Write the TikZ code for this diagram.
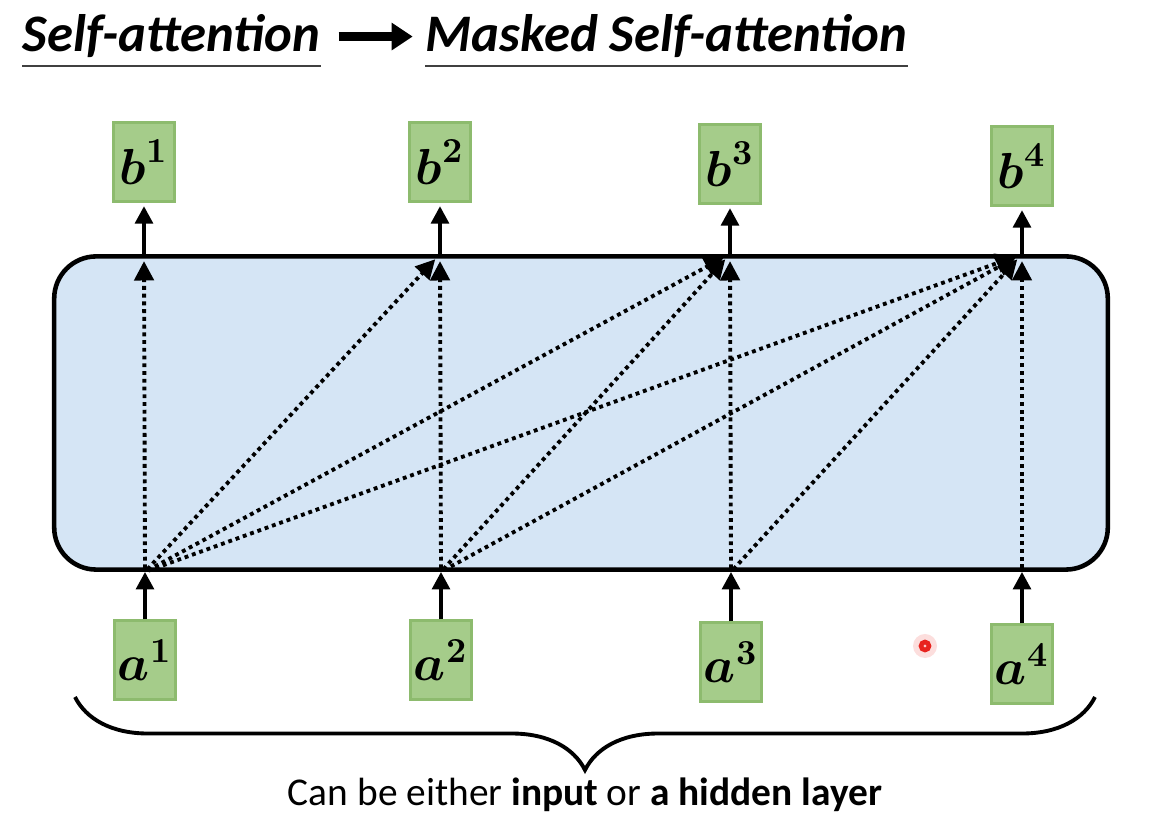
\documentclass[tikz,border=0pt]{standalone}
\usepackage{fontspec}
\usepackage{amsmath}
\usetikzlibrary{arrows.meta, positioning, calc, decorations.pathreplacing}
\newfontfamily\carlito{Carlito}
\definecolor{vecgreen}{HTML}{A5CC8A}
\definecolor{vecedge}{HTML}{8DBB6E}
\definecolor{layerblue}{HTML}{D5E5F5}
\definecolor{ptred}{HTML}{E8231E}

\begin{document}
\begin{tikzpicture}[
  x=0.01cm, y=-0.01cm,
  vec/.style={rectangle, draw=vecedge, fill=vecgreen, line width=0.6pt, minimum width=0.61cm, minimum height=0.79cm, inner sep=0pt, font=\fontsize{14}{16}\selectfont},
  layerbox/.style={rectangle, rounded corners=0.42cm, draw=black, line width=1.3pt, fill=layerblue, minimum width=10.53cm, minimum height=3.13cm},
  solidarrow/.style={-{Triangle[length=5pt, width=5pt]}, line width=1.2pt},
  dotarrow/.style={-{Triangle[length=5.5pt, width=5.5pt]}, line width=1.1pt, dash pattern=on 1.1pt off 1.1pt},
  heading/.style={font=\carlito\bfseries\itshape\fontsize{15}{18}\selectfont, inner sep=0pt},
  uline/.style={line width=0.7pt, black!75},
  bigarrow/.style={-{Triangle[length=6pt, width=7.5pt]}, line width=2.3pt},
]
\useasboundingbox (0,0) rectangle (1154,816);

% Title
\node[heading, anchor=base west] (selfatt) at (22,52) {Self-attention};
\node[heading, anchor=base west] (masked) at (425,52) {Masked Self-attention};
\draw[uline] ([yshift=-4pt]selfatt.base west) -- ([yshift=-4pt]selfatt.base east);
\draw[uline] ([yshift=-4pt]masked.base west) -- ([yshift=-4pt]masked.base east);
\draw[bigarrow, shorten <=5pt, shorten >=3.5pt] (selfatt.east) -- (masked.west);

% Layer
\node[layerbox] (layer) at (581,413) {};

% Outputs and inputs
\node[vec] (b1) at (144,162) {$\boldsymbol{b}^{\boldsymbol{1}}$};
\node[vec] (b2) at (440,162) {$\boldsymbol{b}^{\boldsymbol{2}}$};
\node[vec] (b3) at (730,164) {$\boldsymbol{b}^{\boldsymbol{3}}$};
\node[vec] (b4) at (1022,166) {$\boldsymbol{b}^{\boldsymbol{4}}$};
\node[vec] (a1) at (145,660) {$\boldsymbol{a}^{\boldsymbol{1}}$};
\node[vec] (a2) at (441,660) {$\boldsymbol{a}^{\boldsymbol{2}}$};
\node[vec] (a3) at (731,662) {$\boldsymbol{a}^{\boldsymbol{3}}$};
\node[vec] (a4) at (1022,664) {$\boldsymbol{a}^{\boldsymbol{4}}$};

\foreach \k in {1,...,4} {
  \draw[solidarrow] (a\k) -- (a\k |- layer.south);
  \draw[solidarrow, shorten >=1pt] (b\k |- layer.north) -- (b\k);
}

% Masked attention: only earlier inputs
\foreach \i in {1,...,4}
  \foreach \j in {\i,...,4}
    \draw[dotarrow, shorten <=1pt, shorten >=2pt] (a\i |- layer.south) -- (b\j |- layer.north);

% Laser pointer
\node[circle, fill=ptred!15, minimum size=0.24cm, inner sep=0pt] (pointer) at (925,646) {};
\node[circle, draw=ptred, line width=1.3pt, fill=ptred!25, minimum size=0.08cm, inner sep=0pt] (pointerdot) at (pointer) {};

% Brace and caption
\coordinate (braceL) at (75,697);
\coordinate (braceR) at (1095,697);
\draw[decorate, decoration={brace, mirror, amplitude=0.73cm}, line width=1.1pt] (braceL) -- (braceR);
\node[font=\carlito\fontsize{11.2}{13}\selectfont] (caption) at (585,795) {Can be either \textbf{input} or \textbf{a hidden layer}};

\end{tikzpicture}
\end{document}
